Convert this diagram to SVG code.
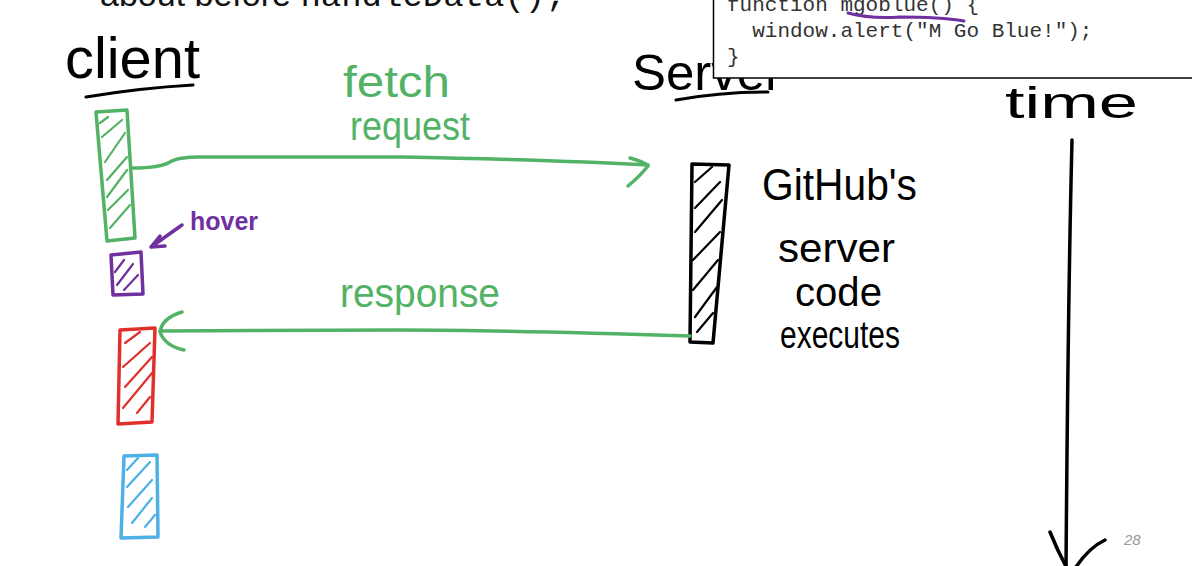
<svg xmlns="http://www.w3.org/2000/svg" width="1192" height="566" viewBox="0 0 1192 566">
<style>
.hand{font-family:"Liberation Sans","DejaVu Sans",sans-serif;}
.bar{fill:none;stroke-width:3.5;stroke-linejoin:round;stroke-linecap:round;}
.hatch{fill:none;stroke-width:2.2;stroke-linecap:round;}
.ink{fill:none;stroke-linecap:round;stroke-linejoin:round;}
.g{stroke:#52b266;} .p{stroke:#7030a0;} .r{stroke:#e0302a;} .b{stroke:#4db0e6;} .k{stroke:#000;}
.code{font-family:"Liberation Mono","Courier New",monospace;font-size:21px;fill:#333;}
</style>
<defs>
<clipPath id="outsideBox"><path d="M0,0 H713 V78 H1192 V566 H0 Z"/></clipPath>
</defs>
<rect width="1192" height="566" fill="#fff"/>

<g id="slide-title">
<text x="100" y="6" font-size="34" fill="#111"><tspan font-family="Liberation Sans,sans-serif">about before </tspan><tspan font-family="Liberation Mono,monospace">handleData();</tspan></text>
</g>

<g id="client">
<text class="hand" x="65" y="78" font-size="58" textLength="135" lengthAdjust="spacingAndGlyphs" fill="#000">client</text>
<path class="ink k" stroke-width="3" d="M86,97 Q140,88 193,85"/>
</g>

<g id="server-label">
<text class="hand" x="632" y="90" font-size="50" textLength="150" lengthAdjust="spacingAndGlyphs" fill="#000" clip-path="url(#outsideBox)">Server</text>
<path class="ink k" stroke-width="3" d="M676,100 Q720,92 768,92"/>
</g>

<g id="time-label">
<text class="hand" x="1005" y="118" font-size="44" textLength="133" lengthAdjust="spacingAndGlyphs" fill="#000">time</text>
</g>

<g id="code-box">
<rect x="713.5" y="-5" width="500" height="83" fill="#fff" stroke="#000" stroke-width="1.5"/>
<text class="code" x="727" y="11" xml:space="preserve">function mgoblue() {</text>
<text class="code" x="727" y="37" xml:space="preserve">  window.alert("M Go Blue!");</text>
<text class="code" x="727" y="63">}</text>
<path class="ink p" stroke-width="3" d="M848,13 Q870,19 900,17 Q940,17 964,21"/>
</g>

<g id="client-fetch-bar">
<path class="bar g" d="M96,112 L127,110 L135,238 L107,241 Z"/>
<path class="hatch g" d="M100,123 L108,117 M102,137 L122,120 M105,162 L125,133 M107,180 L127,157 M107,197 L127,170 M108,210 L128,190 M110,228 L130,205"/>
</g>

<g id="client-hover-bar">
<path class="bar p" d="M111,255 L141,252 L143,294 L113,295 Z"/>
<path class="hatch p" d="M115,272 L124,260 M117,285 L133,264 M124,290 L138,275"/>
</g>

<g id="hover-label">
<text class="hand" x="190" y="230" font-size="26" font-weight="bold" textLength="68" lengthAdjust="spacingAndGlyphs" fill="#7030a0">hover</text>
</g>

<g id="client-response-bar">
<path class="bar r" d="M120,330 L155,328 L152,422 L118,424 Z"/>
<path class="hatch r" d="M125,343 L140,332 M123,367 L150,343 M125,387 L152,357 M123,408 L152,373 M137,413 L150,397"/>
</g>

<g id="client-blue-bar">
<path class="bar b" d="M124,456 L157,455 L158,537 L121,538 Z"/>
<path class="hatch b" d="M127,470 L138,458 M127,487 L150,462 M128,507 L152,480 M132,523 L152,498 M145,527 L155,515"/>
</g>

<g id="server-bar">
<path class="bar k" stroke-width="3" d="M692,164 L729,165 L713,343 L690,342 Z"/>
<path class="hatch k" d="M695,182 L712,167 M695,208 L720,182 M695,232 L722,200 M693,260 L720,232 M693,290 L718,260 M695,317 L717,287 M697,332 L713,313"/>
</g>

<g id="server-note">
<text class="hand" x="762" y="200" font-size="44" textLength="155" lengthAdjust="spacingAndGlyphs" fill="#000">GitHub's</text>
<text class="hand" x="778" y="262" font-size="40" textLength="117" lengthAdjust="spacingAndGlyphs" fill="#000">server</text>
<text class="hand" x="795" y="306" font-size="40" textLength="87" lengthAdjust="spacingAndGlyphs" fill="#000">code</text>
<text class="hand" x="780" y="348" font-size="38" textLength="120" lengthAdjust="spacingAndGlyphs" fill="#000">executes</text>
</g>

<g id="fetch-label">
<text class="hand" x="343" y="97" font-size="44" textLength="107" lengthAdjust="spacingAndGlyphs" fill="#52b266">fetch</text>
<text class="hand" x="350" y="140" font-size="40" textLength="120" lengthAdjust="spacingAndGlyphs" fill="#52b266">request</text>
</g>

<g id="response-label">
<text class="hand" x="340" y="307" font-size="40" textLength="160" lengthAdjust="spacingAndGlyphs" fill="#52b266">response</text>
</g>

<g id="connectors">
<path class="ink g" stroke-width="3.5" d="M133,168 Q160,168 170,162 Q178,157 200,157 L400,157 Q560,160 648,165"/>
<path class="ink g" stroke-width="3.5" d="M630,158 Q645,162 648,166 Q640,176 628,186"/>
<path class="ink g" stroke-width="3.5" d="M690,336 Q500,330 400,330 L160,331"/>
<path class="ink g" stroke-width="3.5" d="M182,312 Q162,318 160,332 Q165,346 184,350"/>
<path class="ink p" stroke-width="3.5" d="M182,225 L151,247 M151,247 L160,236 M151,247 L165,246"/>
<path class="ink k" stroke-width="3.5" d="M1072,140 Q1068,300 1066,570"/>
<path class="ink k" stroke-width="3.5" d="M1050,532 Q1058,552 1068,570 M1105,540 Q1088,548 1074,570"/>
</g>

<g id="page-number">
<text x="1124" y="545" font-family="Liberation Sans,sans-serif" font-style="italic" font-size="15" fill="#999">28</text>
</g>
</svg>
